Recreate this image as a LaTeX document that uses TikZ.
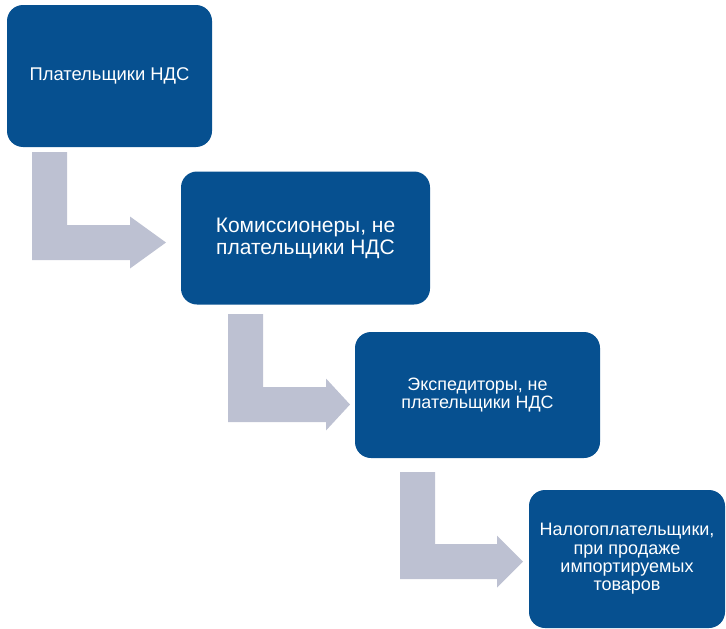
\documentclass[tikz,border=0pt]{standalone}
\usepackage{fontspec}
\setmainfont{Liberation Sans}
\usepackage{tikz}
\usetikzlibrary{positioning}
\definecolor{boxblue}{RGB}{6,80,144}
\definecolor{bendgray}{RGB}{189,193,210}
\tikzset{
block/.style={
  rectangle,
  fill=boxblue,
  text=white,
  text centered,
  align=center,
  rounded corners=16pt,
  inner sep=0pt,
 },
bendfill/.style={fill=bendgray}
}
% bent arrow: stem x, top y, bottom y, head x, tip x
\newcommand{\bentarrow}[5]{\fill[bendfill] (#1,#2) -- ++(35,0) -- (#1+35,#3-35) -- (#4,#3-35) -- (#4,#3-43.5) -- (#5,#3-17.5) -- (#4,#3+8.5) -- (#4,#3) -- (#1,#3) -- cycle;}

\begin{document}
\begin{tikzpicture}[x=1pt,y=-1pt]
 \useasboundingbox (0,0) rectangle (726,629);

 \node[block,minimum width=205pt,minimum height=142pt,font=\fontsize{18.4}{21}\selectfont] (payers) at (109.5,76) {Плательщики НДС};
 \node[block,minimum width=249pt,minimum height=133pt,font=\fontsize{21}{22}\selectfont] (agents) at (305.5,238) {Комиссионеры, не\\плательщики НДС};
 \node[block,minimum width=245pt,minimum height=126pt,font=\fontsize{17.9}{17.5}\selectfont] (forwarders) at (477.5,395) {Экспедиторы, не\\плательщики НДС};
 \node[block,minimum width=196pt,minimum height=138pt,font=\fontsize{18}{18.3}\selectfont] (importers) at (627,559) {Налогоплательщики,\\при продаже\\импортируемых\\товаров};

 \bentarrow{32}{152}{260}{130}{166}
 \bentarrow{228}{314}{422}{326}{350}
 \bentarrow{400}{472}{579}{497}{523}
\end{tikzpicture}
\end{document}
